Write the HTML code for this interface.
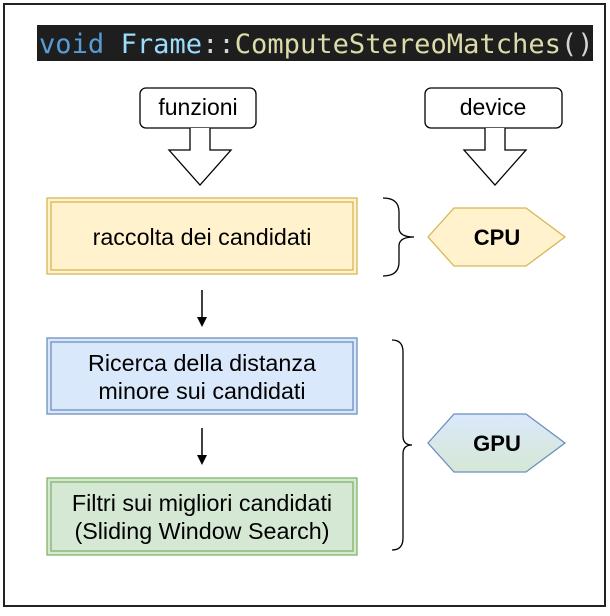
<!DOCTYPE html>
<html><head><style>
body{margin:0;width:610px;height:611px;background:#fff;overflow:hidden}
.t{font-family:"Liberation Sans",sans-serif}
</style></head><body>
<svg width="610" height="611" xmlns="http://www.w3.org/2000/svg">
<defs>
<linearGradient id="g" x1="0" y1="0" x2="0" y2="1"><stop offset="0" stop-color="#dae8fc"/><stop offset="1" stop-color="#d5e8d4"/></linearGradient>
</defs>
<rect x="4" y="4" width="601" height="602" fill="#fff" stroke="#222" stroke-width="2"/>
<rect x="37" y="25" width="556" height="36" fill="#1e1e1e"/>
<text x="39" y="53" style="font-family:'DejaVu Sans Mono','Liberation Mono',monospace" font-size="27.1"><tspan fill="#569cd6">void </tspan><tspan fill="#9cdcfe">Frame</tspan><tspan fill="#d4d4d4">::</tspan><tspan fill="#dcdcaa">ComputeStereoMatches</tspan><tspan fill="#d4d4d4">()</tspan></text>
<g class="t">
<rect x="140" y="88" width="116" height="40" rx="6" fill="#fff" stroke="#000" stroke-width="1.3"/>
<text x="198" y="115" font-size="23" text-anchor="middle">funzioni</text>
<rect x="425" y="88" width="137" height="40" rx="6" fill="#fff" stroke="#000" stroke-width="1.3"/>
<text x="493" y="115" font-size="23" text-anchor="middle">device</text>
<path d="M190 128 V150 H169 L200 185 L231 150 H210 V128" fill="#fff" stroke="#000" stroke-width="1.3"/>
<path d="M485 128 V150 H464 L495 185 L526 150 H505 V128" fill="#fff" stroke="#000" stroke-width="1.3"/>
<rect x="47" y="198" width="310" height="76" fill="#fff2cc" stroke="#d6b656" stroke-width="1.3"/>
<rect x="51" y="202" width="302" height="68" fill="none" stroke="#d6b656" stroke-width="1.3"/>
<text x="202" y="245" font-size="23.3" text-anchor="middle">raccolta dei candidati</text>
<rect x="47" y="338" width="310" height="76" fill="#dae8fc" stroke="#6c8ebf" stroke-width="1.3"/>
<rect x="51" y="342" width="302" height="68" fill="none" stroke="#6c8ebf" stroke-width="1.3"/>
<text x="202" y="371" font-size="23.3" text-anchor="middle">Ricerca della distanza</text>
<text x="202" y="399" font-size="23.3" text-anchor="middle">minore sui candidati</text>
<rect x="47" y="478" width="310" height="77" fill="#d5e8d4" stroke="#82b366" stroke-width="1.3"/>
<rect x="51" y="482" width="302" height="69" fill="none" stroke="#82b366" stroke-width="1.3"/>
<text x="202" y="511" font-size="23.3" text-anchor="middle">Filtri sui migliori candidati</text>
<text x="202" y="539" font-size="23.3" text-anchor="middle">(Sliding Window Search)</text>
<path d="M202 290 V320" stroke="#000" stroke-width="1.5"/><path d="M197 317 L202 327 L207 317 Z"/>
<path d="M202 428 V458" stroke="#000" stroke-width="1.5"/><path d="M197 455 L202 465 L207 455 Z"/>
<path d="M383 198 Q399 198 399 212 V228 Q399 237 414 237 Q399 237 399 246 V262 Q399 276 383 276" fill="none" stroke="#000" stroke-width="1.3"/>
<path d="M392 340 Q403 340 403 352 V436 Q403 445 412 445 Q403 445 403 454 V538 Q403 550 392 550" fill="none" stroke="#000" stroke-width="1.3"/>
<polygon points="428,237 454,208 526,208 565,237 526,266 454,266" fill="#fff2cc" stroke="#d6b656" stroke-width="1.3"/>
<text x="497" y="245" font-size="22" font-weight="bold" text-anchor="middle">CPU</text>
<polygon points="428,443 454,414 526,414 565,443 526,472 454,472" fill="url(#g)" stroke="#6c8ebf" stroke-width="1.3"/>
<text x="497" y="451" font-size="22" font-weight="bold" text-anchor="middle">GPU</text>
</g>
</svg>
</body></html>
